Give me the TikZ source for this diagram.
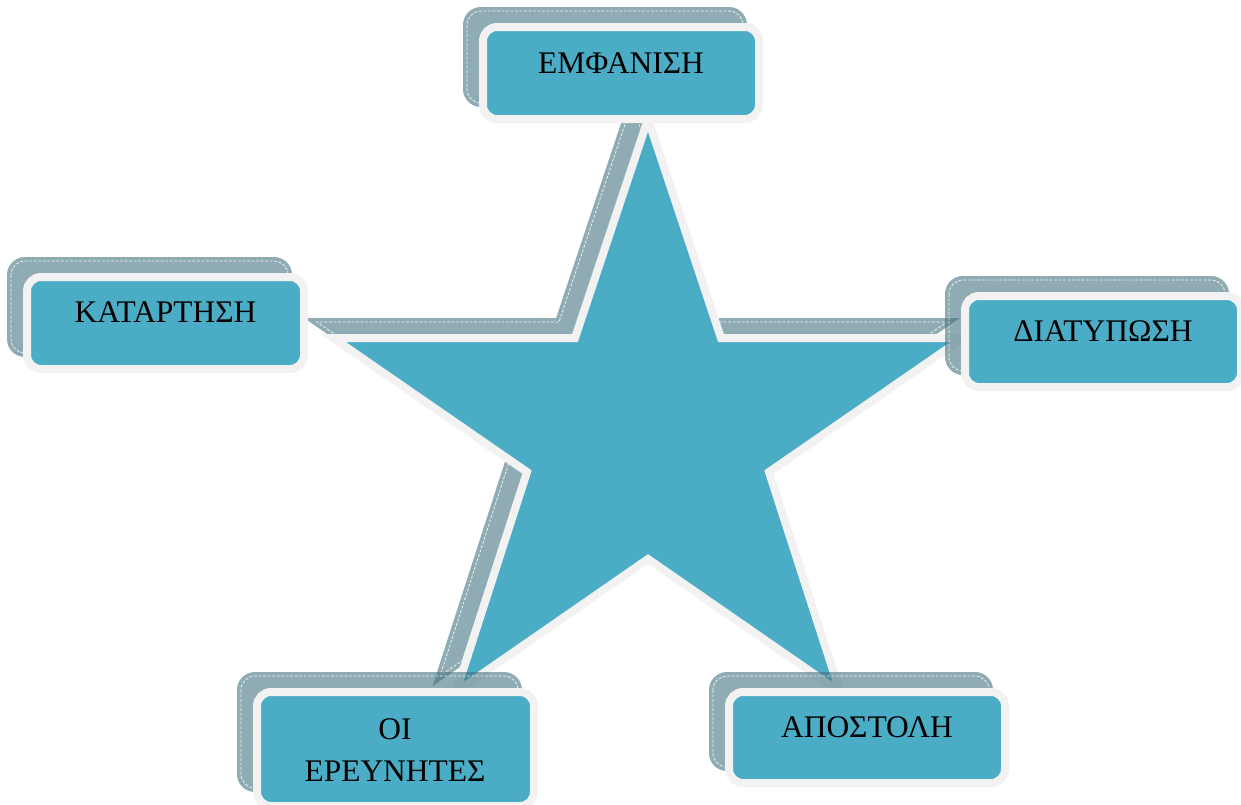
\documentclass[tikz,border=0pt]{standalone}
\usepackage{fontspec}
\setmainfont{Liberation Serif}
\definecolor{aqua}{HTML}{4BACC6}
\definecolor{rim}{HTML}{F2F2F2}
\definecolor{shade}{RGB}{143,171,179}
\definecolor{shadeink}{RGB}{68,115,128}
% five-pointed star outline, in pixel units
\newcommand{\starpath}{(648,119) -- (721,338) -- (963,338) -- (769,472) -- (840,692) -- (648,559) -- (456,692) -- (527,472) -- (333,338) -- (575,338) -- cycle}
\begin{document}
\begin{tikzpicture}[x=0.75pt,y=-0.75pt,
  starshadow/.style={fill=shade, draw=shade, line width=6pt, line join=miter},
  dashline/.style={draw=white, draw opacity=0.85, line width=0.6pt, dash pattern=on 2.2pt off 1.2pt},
  starbody/.style={fill=aqua, draw=rim, line width=6pt, line join=miter},
  boxshadow/.style={fill=shadeink, fill opacity=0.6, rounded corners=13.5pt},
  boxdash/.style={dashline, rounded corners=10.5pt},
  boxbody/.style={fill=aqua, draw=rim, line width=6pt, rounded corners=10.5pt},
  boxtext/.style={font=\fontsize{23.6}{31.5}\selectfont, text=black, inner sep=0pt, align=center}]
\useasboundingbox (0,0) rectangle (1241,804);
\clip (0,0) rectangle (1241,804);

% star shadow and star
\begin{scope}[shift={(-16,-16)}]
  \path[starshadow] \starpath;
  \path[dashline] \starpath;
\end{scope}
\path[starbody] \starpath;

% box shadows
\path[boxshadow] (463,7) rectangle (747,107);
\path[boxshadow] (7,257) rectangle (292,357);
\path[boxshadow] (945,276) rectangle (1229,375);
\path[boxshadow] (237,672) rectangle (522,792);
\path[boxshadow] (709,672) rectangle (993,771);

\path[boxdash] (467,11) rectangle (743,103);
\path[boxdash] (11,261) rectangle (288,353);
\path[boxdash] (949,280) rectangle (1225,371);
\path[boxdash] (241,676) rectangle (518,788);
\path[boxdash] (713,676) rectangle (989,767);

% boxes
\path[boxbody] (483,27) rectangle (759,119);
\path[boxbody] (27,277) rectangle (304,369);
\path[boxbody] (965,296) rectangle (1241,387);
\path[boxbody] (257,692) rectangle (534,806);
\path[boxbody] (729,692) rectangle (1005,783);

% labels
\node[boxtext, anchor=base] (emfanisi) at (621,73) {ΕΜΦΑΝΙΣΗ};
\node[boxtext, anchor=base] (katartisi) at (165.5,322.5) {ΚΑΤΑΡΤΗΣΗ};
\node[boxtext, anchor=base] (diatyposi) at (1103,341.5) {ΔΙΑΤΥΠΩΣΗ};
\node[boxtext, anchor=center] (ereunites) at (395,750) {ΟΙ\\ΕΡΕΥΝΗΤΕΣ};
\node[boxtext, anchor=base] (apostoli) at (867,737) {ΑΠΟΣΤΟΛΗ};
\end{tikzpicture}
\end{document}
